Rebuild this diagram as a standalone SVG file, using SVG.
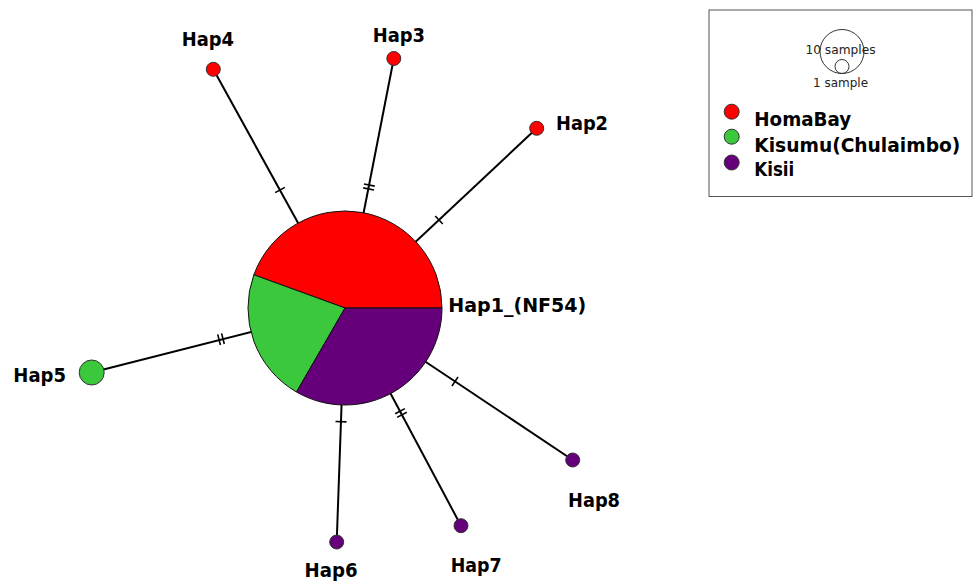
<svg xmlns="http://www.w3.org/2000/svg" xmlns:xlink="http://www.w3.org/1999/xlink" width="975" height="581" viewBox="0 0 975 581">
<style>
.edge{stroke:#000;stroke-width:2;fill:none}
.tick{stroke:#000;stroke-width:1.6}
.lbl{font-family:"DejaVu Sans","Liberation Sans",sans-serif;font-weight:bold;font-size:20px;fill:#000}
.node{stroke:#333;stroke-width:1}
.red{fill:#ff0000}
.green{fill:#3cc83c}
.purple{fill:#65007a}
.small{font-family:"DejaVu Sans",sans-serif;font-size:12px;fill:#222}
</style>
<defs>
<g id="t1"><line class="tick" x1="0" y1="-5.5" x2="0" y2="5.5"/></g>
<g id="t2"><line class="tick" x1="-2" y1="-5.5" x2="-2" y2="5.5"/><line class="tick" x1="2" y1="-5.5" x2="2" y2="5.5"/></g>
</defs>
<rect width="975" height="581" fill="#fff"/>
<g id="connectors">
<line class="edge" x1="213.3" y1="69.3" x2="345" y2="308"/>
<line class="edge" x1="393.8" y1="58.5" x2="345" y2="308"/>
<line class="edge" x1="536.7" y1="128.3" x2="345" y2="308"/>
<line class="edge" x1="91.7" y1="372.5" x2="345" y2="308"/>
<line class="edge" x1="336.7" y1="542" x2="345" y2="308"/>
<line class="edge" x1="461" y1="525.7" x2="345" y2="308"/>
<line class="edge" x1="572.7" y1="460" x2="345" y2="308"/>
<use xlink:href="#t1" transform="translate(280,190) rotate(61.1)"/>
<use xlink:href="#t2" transform="translate(369,187) rotate(101.2)"/>
<use xlink:href="#t1" transform="translate(439,220) rotate(136.85)"/>
<use xlink:href="#t2" transform="translate(221,339.2) rotate(-14.1)"/>
<use xlink:href="#t1" transform="translate(341,421.7) rotate(-87.97)"/>
<use xlink:href="#t2" transform="translate(401,413) rotate(-118.05)"/>
<use xlink:href="#t1" transform="translate(455,381.4) rotate(-146.3)"/>
</g>
<g id="hap1">
<path class="red" d="M345,308 L442,308 A97,97 0 0 0 253.85,274.8 Z" stroke="#111" stroke-width="1"/>
<path class="green" d="M345,308 L253.85,274.8 A97,97 0 0 0 296.5,392 Z" stroke="#111" stroke-width="1"/>
<path class="purple" d="M345,308 L296.5,392 A97,97 0 0 0 442,308 Z" stroke="#111" stroke-width="1"/>
<text class="lbl" x="448.3" y="311.7" textLength="138" lengthAdjust="spacingAndGlyphs">Hap1_(NF54)</text>
</g>
<g id="hap2">
<circle class="node red" cx="536.7" cy="128.3" r="7"/>
<text class="lbl" x="556" y="129.5" textLength="52" lengthAdjust="spacingAndGlyphs">Hap2</text>
</g>
<g id="hap3">
<circle class="node red" cx="393.8" cy="58.5" r="7"/>
<text class="lbl" x="372.7" y="41.7" textLength="52.3" lengthAdjust="spacingAndGlyphs">Hap3</text>
</g>
<g id="hap4">
<circle class="node red" cx="213.3" cy="69.3" r="7"/>
<text class="lbl" x="181.7" y="45.7" textLength="52.3" lengthAdjust="spacingAndGlyphs">Hap4</text>
</g>
<g id="hap5">
<circle class="node green" cx="91.7" cy="372.5" r="12.5"/>
<text class="lbl" x="13.3" y="382.3" textLength="52.7" lengthAdjust="spacingAndGlyphs">Hap5</text>
</g>
<g id="hap6">
<circle class="node purple" cx="336.7" cy="542" r="7"/>
<text class="lbl" x="304.5" y="577.3" textLength="53" lengthAdjust="spacingAndGlyphs">Hap6</text>
</g>
<g id="hap7">
<circle class="node purple" cx="461" cy="525.7" r="7"/>
<text class="lbl" x="450.7" y="571.5" textLength="51" lengthAdjust="spacingAndGlyphs">Hap7</text>
</g>
<g id="hap8">
<circle class="node purple" cx="572.7" cy="460" r="7"/>
<text class="lbl" x="568" y="507" textLength="52" lengthAdjust="spacingAndGlyphs">Hap8</text>
</g>
<g id="legend">
<rect x="709" y="10" width="263" height="186.5" fill="#fff" stroke="#555" stroke-width="1"/>
<circle cx="842" cy="51.5" r="22" fill="none" stroke="#333" stroke-width="1"/>
<circle cx="842" cy="66.5" r="7" fill="none" stroke="#333" stroke-width="1"/>
<text class="small" x="840.5" y="54" text-anchor="middle" textLength="70" lengthAdjust="spacingAndGlyphs">10 samples</text>
<text class="small" x="840.5" y="86.5" text-anchor="middle" textLength="55" lengthAdjust="spacingAndGlyphs">1 sample</text>
<circle class="node red" cx="731.7" cy="111.7" r="7.5"/>
<circle class="node green" cx="731.7" cy="136.7" r="7.5"/>
<circle class="node purple" cx="731.7" cy="162.5" r="7.5"/>
<text class="lbl" x="754.3" y="125.7" textLength="97" lengthAdjust="spacingAndGlyphs">HomaBay</text>
<text class="lbl" x="754.3" y="151.7" textLength="206" lengthAdjust="spacingAndGlyphs">Kisumu(Chulaimbo)</text>
<text class="lbl" x="754.3" y="175.7" textLength="40" lengthAdjust="spacingAndGlyphs">Kisii</text>
</g>
</svg>
